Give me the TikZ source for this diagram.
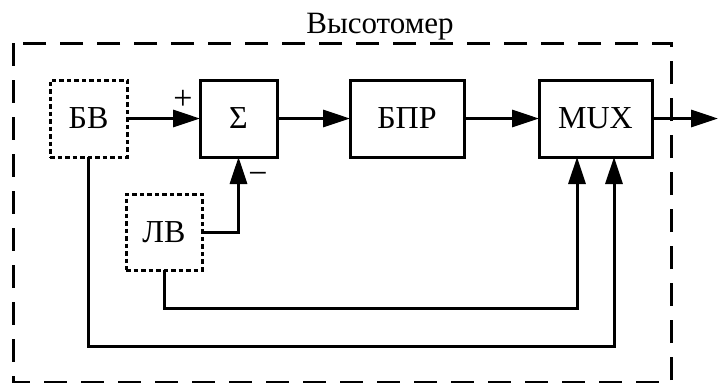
\documentclass[tikz,border=0pt]{standalone}
\usepackage{fontspec}
\setmainfont{LiberationSerif}[Extension=.ttf,UprightFont=*-Regular,BoldFont=*-Bold,ItalicFont=*-Italic,BoldItalicFont=*-BoldItalic]
\usetikzlibrary{arrows.meta}
\begin{document}
\begin{tikzpicture}[x=1pt,y=-1pt,
  blk/.style={draw,line width=3pt,rectangle,inner sep=0pt,outer sep=0pt,
    minimum height=77pt,font=\fontsize{32}{36}\selectfont},
  dotblk/.style={blk,dash pattern=on 4.5pt off 3pt},
  conn/.style={line width=3pt},
  arr/.style={conn,-{Triangle[length=27pt,width=17pt]}},
  lbl/.style={font=\fontsize{34}{38}\selectfont,inner sep=0pt}]
\useasboundingbox (0,0) rectangle (718,383);
% outer dashed frame
\draw[line width=3pt,dash pattern=on 23pt off 14pt] (13,43) rectangle (671,382);
\node[font=\fontsize{31}{34}\selectfont,anchor=base,inner sep=0pt] (title) at (380,33) {Высотомер};
% blocks
\node[dotblk,minimum width=77pt] (bv) at (88.5,118.5) {БВ};
\node[blk,minimum width=77pt] (sum) at (238.5,118.5) {Σ};
\node[blk,minimum width=114pt] (bpr) at (407,118.5) {БПР};
\node[blk,minimum width=113pt] (mux) at (595.5,118.5) {MUX};
\node[dotblk,minimum width=76pt,minimum height=76pt] (lv) at (164,232) {ЛВ};
\coordinate (out) at (718,118.5);
% connectors
\draw[arr] (bv.east) -- (sum.west);
\draw[arr] (sum.east) -- (bpr.west);
\draw[arr] (bpr.east) -- (mux.west);
\draw[arr] (mux.east) -- (out);
\draw[arr] (lv.east) -| (sum.south);
\draw[arr] (lv.south) -- ++(0,38) -| ([xshift=-18.5pt]mux.south);
\draw[arr] (bv.south) -- ++(0,189) -| ([xshift=18.5pt]mux.south);
% signs
\node[lbl] (plus) at (183,100) {+};
\node[lbl] (minus) at (258,178) {−};
\end{tikzpicture}
\end{document}
